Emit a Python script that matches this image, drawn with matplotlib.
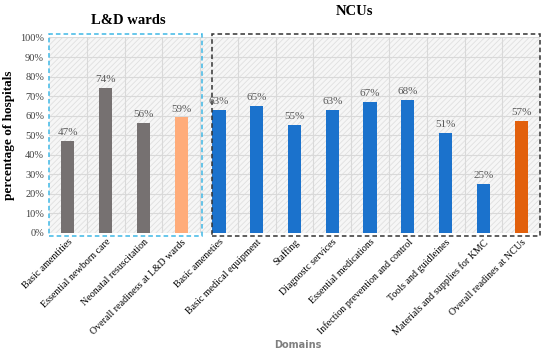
import matplotlib.pyplot as plt
from matplotlib.patches import Rectangle

categories = ['Basic amentities', 'Essential newborn care', 'Neonatal resuscitation',
              'Overall readiness at L&D wards', 'Basic ameneties', 'Basic medical equipment',
              'Staffing', 'Diagnostc services', 'Essential medications',
              'Infection prevention and control', 'Tools and guidleines',
              'Materials and supplies for KMC', 'Overall readines at NCUs']
values = [47, 74, 56, 59, 63, 65, 55, 63, 67, 68, 51, 25, 57]
colors = ['#767171', '#767171', '#767171', '#FFAC7A',
          '#1B72CC', '#1B72CC', '#1B72CC', '#1B72CC', '#1B72CC',
          '#1B72CC', '#1B72CC', '#1B72CC', '#E2600C']

plt.rcParams['font.family'] = ['Liberation Serif', 'DejaVu Serif']
plt.rcParams['hatch.linewidth'] = 0.6

fig = plt.figure(figsize=(5.5, 3.64), dpi=100)
ax = fig.add_axes([0.089, 0.361, 0.893, 0.536])

x = list(range(len(categories)))
ax.bar(x, values, width=0.35, color=colors, zorder=3)
for xi, v in zip(x, values):
    ax.text(xi, v + 2, f'{v}%', ha='center', va='bottom', fontsize=8, color='#595959', zorder=4)

# hatched background
ax.add_patch(Rectangle((0, 0), 1, 1, transform=ax.transAxes, facecolor='#f6f6f6',
                       edgecolor='#e0e0e0', hatch='//////', lw=0, zorder=0))
ax.set_facecolor('white')

ax.set_xlim(-0.5, len(categories) - 0.5)
ax.set_ylim(0, 100)
ax.set_yticks(range(0, 101, 10))
ax.set_yticklabels([f'{t}%' for t in range(0, 101, 10)], fontsize=7.5, color='#404040')
ax.set_xticks(x)
ax.set_xticklabels(categories, rotation=45, ha='right', rotation_mode='anchor', fontsize=7.2)
ax.set_xticks([i + 0.5 for i in x[:-1]], minor=True)
ax.tick_params(length=0, which='both')
ax.grid(True, axis='y', color='#d9d9d9', lw=0.8, zorder=1)
ax.grid(True, axis='x', which='minor', color='#d9d9d9', lw=0.8, zorder=1)
for s in ax.spines.values():
    s.set_visible(False)

ax.set_ylabel('percentage of hospitals', fontsize=9.5, fontweight='bold', labelpad=4)
fig.text(0.542, 0.045, 'Domains', fontsize=7, color='#7f7f7f', fontweight='bold',
         ha='center', family='DejaVu Sans')

# group boxes
ax.add_patch(Rectangle((-0.5, -1.5), 4.05, 103.5, fill=False, ls=(0, (3, 2)), lw=1.1,
                       edgecolor='#3fb8e6', clip_on=False, zorder=5))
ax.add_patch(Rectangle((3.82, -1.5), 8.68, 103.5, fill=False, ls=(0, (3, 2)), lw=1.1,
                       edgecolor='#333333', clip_on=False, zorder=5))
fig.text(0.233, 0.935, 'L&D wards', fontsize=10.5, fontweight='bold', ha='center')
fig.text(0.645, 0.96, 'NCUs', fontsize=10.5, fontweight='bold', ha='center')

fig.savefig('out.png', dpi=100)
